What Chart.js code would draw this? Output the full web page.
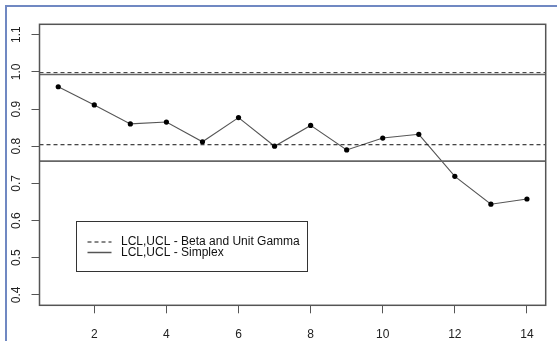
<!DOCTYPE html>
<html>
<head>
<meta charset="utf-8">
<script src="https://cdn.jsdelivr.net/npm/chart.js@4.4.1/dist/chart.umd.min.js"></script>
<style>
  html, body { margin: 0; padding: 0; background: #fff; }
  canvas { display: block; }
</style>
</head>
<body>
<canvas id="qcc" width="557" height="341"></canvas>
<script>
// sample number and the observed statistic
const samples  = [1, 2, 3, 4, 5, 6, 7, 8, 9, 10, 11, 12, 13, 14];
const observed = [0.960, 0.911, 0.860, 0.865, 0.812, 0.877, 0.800, 0.856, 0.790, 0.822, 0.832, 0.719, 0.644, 0.658];

// control limits [LCL, UCL]
const betaGammaLimits = [0.804, 0.998];
const simplexLimits   = [0.760, 0.993];

const xTicks = [2, 4, 6, 8, 10, 12, 14];
const yTicks = [0.4, 0.5, 0.6, 0.7, 0.8, 0.9, 1.0, 1.1];

const legendLabels = ['LCL,UCL - Beta and Unit Gamma', 'LCL,UCL - Simplex'];

// R style axis limits (4% extension)
const X_MIN = 0.48, X_MAX = 14.52;
const Y_MIN = 0.372, Y_MAX = 1.128;

const FONT = { family: '"Liberation Sans", Arial, sans-serif', size: 12 };
const DASH = [4, 3];

function hline(v, dashed, color, width) {
  return {
    type: 'line',
    data: [{ x: X_MIN, y: v }, { x: X_MAX, y: v }],
    borderColor: color,
    borderWidth: width,
    borderDash: dashed ? DASH : [],
    pointRadius: 0,
    tension: 0
  };
}

const frame = {
  id: 'frame',
  beforeDraw(chart) {
    const c = chart.ctx;
    c.save();
    c.fillStyle = '#fff';
    c.fillRect(0, 0, chart.width, chart.height);
    // blue page frame
    c.strokeStyle = '#7088c2';
    c.lineWidth = 2;
    c.beginPath();
    c.moveTo(6, chart.height);
    c.lineTo(6, 6);
    c.lineTo(chart.width, 6);
    c.stroke();
    c.restore();
  },
  afterDraw(chart) {
    const c = chart.ctx;
    const a = chart.chartArea;
    const xs = chart.scales.x, ys = chart.scales.y;
    c.save();
    // plot box
    c.strokeStyle = '#555';
    c.lineWidth = 1.5;
    c.strokeRect(a.left, a.top, a.right - a.left, a.bottom - a.top);

    // rotated y labels
    c.fillStyle = '#222';
    c.font = FONT.size + 'px ' + FONT.family;
    c.textAlign = 'center';
    c.textBaseline = 'middle';
    ys.ticks.forEach(t => {
      const py = ys.getPixelForValue(t.value);
      c.save();
      c.translate(17, py);
      c.rotate(-Math.PI / 2);
      c.fillText(t.value.toFixed(1), 0, 0);
      c.restore();
    });

    // legend placed at (1.5, 0.6) in data units
    const lx = Math.round(xs.getPixelForValue(1.5)) + 0.5;
    const ly = Math.round(ys.getPixelForValue(0.6)) + 0.5;
    const bw = 231, bh = 50;
    c.fillStyle = '#fff';
    c.fillRect(lx, ly, bw, bh);
    c.strokeStyle = '#333';
    c.lineWidth = 1;
    c.strokeRect(lx, ly, bw, bh);
    const rows = [ly + 20.5, ly + 31];
    legendLabels.forEach((lab, i) => {
      c.beginPath();
      c.setLineDash(i === 0 ? DASH : []);
      c.strokeStyle = i === 0 ? '#111' : '#555';
      c.lineWidth = i === 0 ? 1 : 1.5;
      c.moveTo(lx + 11, rows[i]);
      c.lineTo(lx + 35, rows[i]);
      c.stroke();
      c.setLineDash([]);
      c.fillStyle = '#111';
      c.textAlign = 'left';
      c.textBaseline = 'middle';
      c.fillText(lab, lx + 44.5, rows[i]);
    });
    c.restore();
  }
};

new Chart(document.getElementById('qcc'), {
  type: 'line',
  data: {
    datasets: [
      hline(betaGammaLimits[0], true, '#111', 1),
      hline(betaGammaLimits[1], true, '#333', 1),
      hline(simplexLimits[0], false, '#666', 1.6),
      hline(simplexLimits[1], false, '#666', 1.6),
      {
        label: 'observed',
        data: samples.map((s, i) => ({ x: s, y: observed[i] })),
        borderColor: '#555',
        borderWidth: 1.1,
        pointRadius: 2.6,
        pointBackgroundColor: '#000',
        pointBorderWidth: 0,
        tension: 0
      }
    ]
  },
  options: {
    responsive: false,
    animation: false,
    layout: { padding: { left: 0, right: 11.3, top: 24.3, bottom: 0 } },
    plugins: { legend: { display: false }, tooltip: { enabled: false } },
    scales: {
      x: {
        type: 'linear',
        min: X_MIN,
        max: X_MAX,
        afterBuildTicks: s => { s.ticks = xTicks.map(v => ({ value: v })); },
        afterFit: s => { s.height = 35.7; },
        ticks: { font: FONT, color: '#222', padding: 14, autoSkip: false, maxRotation: 0 },
        grid: { drawOnChartArea: false, tickLength: 8, color: '#555' },
        border: { display: false }
      },
      y: {
        type: 'linear',
        min: Y_MIN,
        max: Y_MAX,
        afterBuildTicks: s => { s.ticks = yTicks.map(v => ({ value: v })); },
        afterFit: s => { s.width = 39.5; },
        ticks: { font: FONT, color: 'rgba(0,0,0,0)', callback: v => v.toFixed(1) },
        grid: { drawOnChartArea: false, tickLength: 8, color: '#555' },
        border: { display: false }
      }
    }
  },
  plugins: [frame]
});
</script>
</body>
</html>
